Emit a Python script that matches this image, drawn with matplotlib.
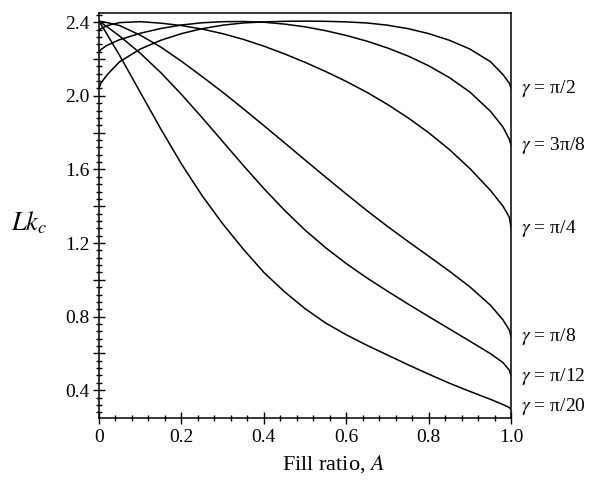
import matplotlib
matplotlib.use('Agg')
import matplotlib.pyplot as plt
from matplotlib.ticker import MultipleLocator, FuncFormatter

plt.rcParams['font.family'] = ['Liberation Serif', 'DejaVu Serif']
plt.rcParams['mathtext.fontset'] = 'stix'

# fill ratio samples
A = [0, 0.005, 0.02, 0.05, 0.1, 0.15, 0.2, 0.25, 0.3, 0.35, 0.4, 0.45, 0.5,
     0.55, 0.6, 0.65, 0.7, 0.75, 0.8, 0.85, 0.9, 0.95, 0.98, 0.995, 1.0]

lk_pi2 = [2.040, 2.070, 2.115, 2.185, 2.254, 2.302, 2.338, 2.365, 2.384, 2.396,
          2.402, 2.405, 2.406, 2.405, 2.402, 2.396, 2.384, 2.365, 2.338, 2.302,
          2.254, 2.185, 2.115, 2.070, 2.040]
lk_3pi8 = [2.240, 2.252, 2.275, 2.305, 2.340, 2.366, 2.385, 2.397, 2.403, 2.404,
           2.400, 2.390, 2.375, 2.354, 2.328, 2.297, 2.260, 2.216, 2.163, 2.099,
           2.020, 1.915, 1.830, 1.765, 1.730]
lk_pi4 = [2.357, 2.365, 2.382, 2.398, 2.403, 2.395, 2.382, 2.363, 2.338, 2.307,
          2.270, 2.228, 2.182, 2.132, 2.078, 2.019, 1.953, 1.880, 1.799, 1.708,
          1.604, 1.485, 1.400, 1.342, 1.280]
lk_pi8 = [2.405, 2.404, 2.398, 2.382, 2.330, 2.265, 2.188, 2.105, 2.020, 1.930,
          1.838, 1.745, 1.651, 1.558, 1.466, 1.376, 1.290, 1.208, 1.128, 1.047,
          0.961, 0.861, 0.782, 0.728, 0.690]
lk_pi12 = [2.405, 2.398, 2.375, 2.325, 2.232, 2.126, 2.008, 1.882, 1.752, 1.622,
           1.496, 1.378, 1.270, 1.174, 1.088, 1.010, 0.938, 0.868, 0.800, 0.733,
           0.666, 0.598, 0.550, 0.510, 0.476]
lk_pi20 = [2.405, 2.388, 2.333, 2.220, 2.020, 1.820, 1.630, 1.458, 1.305, 1.167,
           1.040, 0.935, 0.843, 0.765, 0.701, 0.644, 0.591, 0.538, 0.487, 0.438,
           0.393, 0.350, 0.322, 0.306, 0.294]

curves = [lk_pi2, lk_3pi8, lk_pi4, lk_pi8, lk_pi12, lk_pi20]
labels = ['π/2', '3π/8', 'π/4', 'π/8', 'π/12', 'π/20']

fig = plt.figure(figsize=(5.89, 4.83), dpi=100)
ax = fig.add_axes([0.168, 0.135, 0.700, 0.838])

for ys, lab in zip(curves, labels):
    ax.plot(A, ys, color='black', lw=1.1)
    dy = 2 if lab == 'π/20' else 0
    ax.annotate(r'$\gamma$ = ' + lab, xy=(1.0, ys[-1]), xytext=(7, dy),
                textcoords='offset points', va='center', ha='left',
                fontsize=14, annotation_clip=False)

ax.set_xlim(0, 1.0)
ax.set_ylim(0.25, 2.45)

ax.xaxis.set_major_locator(MultipleLocator(0.2))
ax.xaxis.set_minor_locator(MultipleLocator(0.04))
ax.yaxis.set_major_locator(MultipleLocator(0.2))
ax.yaxis.set_minor_locator(MultipleLocator(0.04))

def xfmt(v, pos):
    return '0' if abs(v) < 1e-9 else f'{v:.1f}'

def yfmt(v, pos):
    k = v / 0.4
    return f'{v:.1f}' if abs(k - round(k)) < 1e-6 else ''

ax.xaxis.set_major_formatter(FuncFormatter(xfmt))
ax.yaxis.set_major_formatter(FuncFormatter(yfmt))

ax.tick_params(which='both', direction='inout', top=False, right=False,
               labelsize=14, width=1.0)
ax.tick_params(which='major', length=8, pad=3)
ax.tick_params(which='minor', length=4.5)
ax.tick_params(axis='x', which='major', pad=4)
for s in ax.spines.values():
    s.set_linewidth(1.1)

ax.set_xlabel('Fill ratio, $A$', fontsize=16)
ax.xaxis.set_label_coords(0.57, -0.088)
ax.set_ylabel('$Lk_c$', fontsize=19, rotation=0, va='center', ha='center')
ax.yaxis.set_label_coords(-0.168, 0.481)

fig.savefig('out.png', dpi=100)
